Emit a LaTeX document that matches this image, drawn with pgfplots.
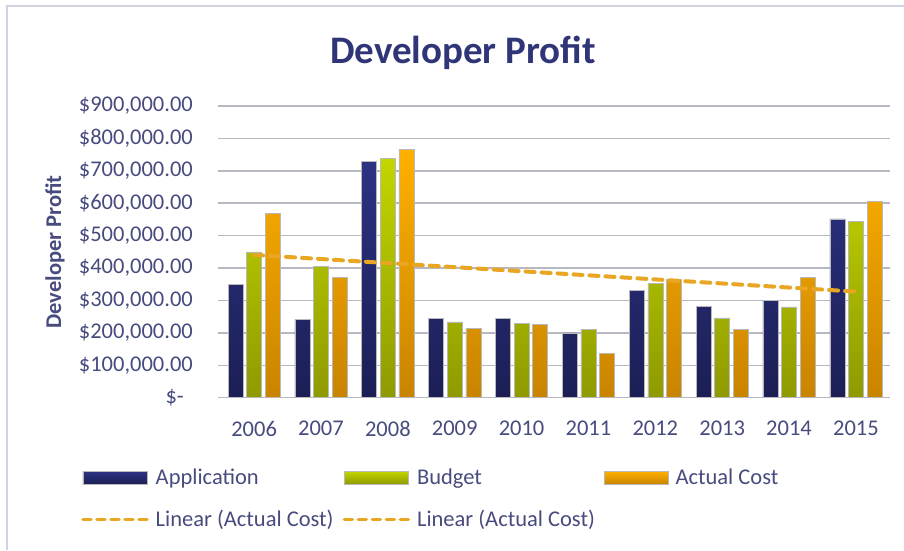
\documentclass[border=0pt]{standalone}
\usepackage{fontspec}
\setmainfont{Carlito}
\usepackage{pgfplots}
\pgfplotsset{compat=1.18}
\definecolor{txt}{HTML}{474B7E}
\definecolor{ttl}{HTML}{2F3577}
\definecolor{frm}{HTML}{D2D3E2}
\definecolor{grd}{HTML}{B8B8C2}
\definecolor{appT}{HTML}{2C3282}
\definecolor{appB}{HTML}{1C1F55}
\definecolor{budT}{HTML}{C3D600}
\definecolor{budB}{HTML}{8E9A00}
\definecolor{actT}{HTML}{FFB000}
\definecolor{actB}{HTML}{C98400}
\definecolor{trd}{HTML}{E8A623}
\pgfplotsset{
  barleg/.style={legend image code/.code={\draw[##1] (0pt,-6.5pt) rectangle (64pt,6.5pt);}},
  lineleg/.style={legend image code/.code={\draw[##1] (0pt,0pt) -- (64pt,0pt);}},
}
\begin{document}
\begin{tikzpicture}
\path[use as bounding box] (0pt,0pt) rectangle (904pt,550pt);
\draw[frm, line width=2pt] (7pt,0pt) -- (7pt,543.5pt) -- (904pt,543.5pt);
\node[font=\fontsize{39}{44}\selectfont\bfseries, text=ttl] at (463pt,497pt) {Developer Profit};
\node[font=\fontsize{22.5}{26}\selectfont\bfseries, text=txt, rotate=90] at (55pt,298pt) {Developer Profit};
\begin{axis}[
  at={(218pt,152.3pt)}, anchor=south west,
  scale only axis, width=672pt, height=291.7pt,
  xmin=-0.54, xmax=9.51, ymin=0, ymax=900000,
  scaled y ticks=false,
  ybar=3.6pt, bar width=15pt,
  axis line style={draw=none},
  tick style={draw=none},
  ymajorgrids, grid style={grd, line width=1.5pt},
  ytick={0,100000,200000,300000,400000,500000,600000,700000,800000,900000},
  yticklabels={\$-\hspace*{9pt},\$100{,}000.00,\$200{,}000.00,\$300{,}000.00,\$400{,}000.00,\$500{,}000.00,\$600{,}000.00,\$700{,}000.00,\$800{,}000.00,\$900{,}000.00},
  xtick={0,1,2,3,4,5,6,7,8,9},
  xticklabels={2006,2007,2008,2009,2010,2011,2012,2013,2014,2015},
  ticklabel style={font=\fontsize{22.5}{26}\selectfont, text=txt},
  yticklabel style={inner sep=0pt, xshift=-25pt},
  xticklabel style={inner sep=0pt, yshift=-19pt},
  legend columns=3,
  legend style={at={(-0.2083,-0.2307)}, anchor=north west, draw=none, fill=none,
    font=\fontsize{22.5}{26}\selectfont, text=txt,
    column sep=0pt, row sep=20pt,
    /tikz/every odd column/.append style={column sep=5pt},
    /tikz/every even column/.append style={column sep=7pt}},
  legend cell align=left,
]
\addplot[draw=gray!55, line width=0.6pt, top color=appT, bottom color=appB, barleg]
  coordinates {(0,350000) (1,242000) (2,728000) (3,245000) (4,245000) (5,200000) (6,331000) (7,282000) (8,301000) (9,552000)};
\addplot[draw=gray!55, line width=0.6pt, top color=budT, bottom color=budB, barleg]
  coordinates {(0,450000) (1,406000) (2,739000) (3,234000) (4,230000) (5,211000) (6,353000) (7,246000) (8,280000) (9,544000)};
\addplot[draw=gray!55, line width=0.6pt, top color=actT, bottom color=actB, barleg]
  coordinates {(0,568000) (1,372000) (2,767000) (3,215000) (4,226000) (5,137000) (6,365000) (7,211000) (8,372000) (9,606000)};
\addplot[sharp plot, trd, line width=4pt, dash pattern=on 9pt off 7pt, line cap=round, forget plot]
  coordinates {(0,440500) (9,327300)};
\addlegendentry{Application}
\addlegendentry{Budget}
\addlegendentry{Actual Cost}
\addlegendimage{trd, line width=3.5pt, dash pattern=on 8pt off 6pt, line cap=round, lineleg}
\addlegendentry{Linear (Actual Cost)}
\addlegendimage{trd, line width=3.5pt, dash pattern=on 8pt off 6pt, line cap=round, lineleg}
\addlegendentry{Linear (Actual Cost)}
\end{axis}
\end{tikzpicture}
\end{document}
